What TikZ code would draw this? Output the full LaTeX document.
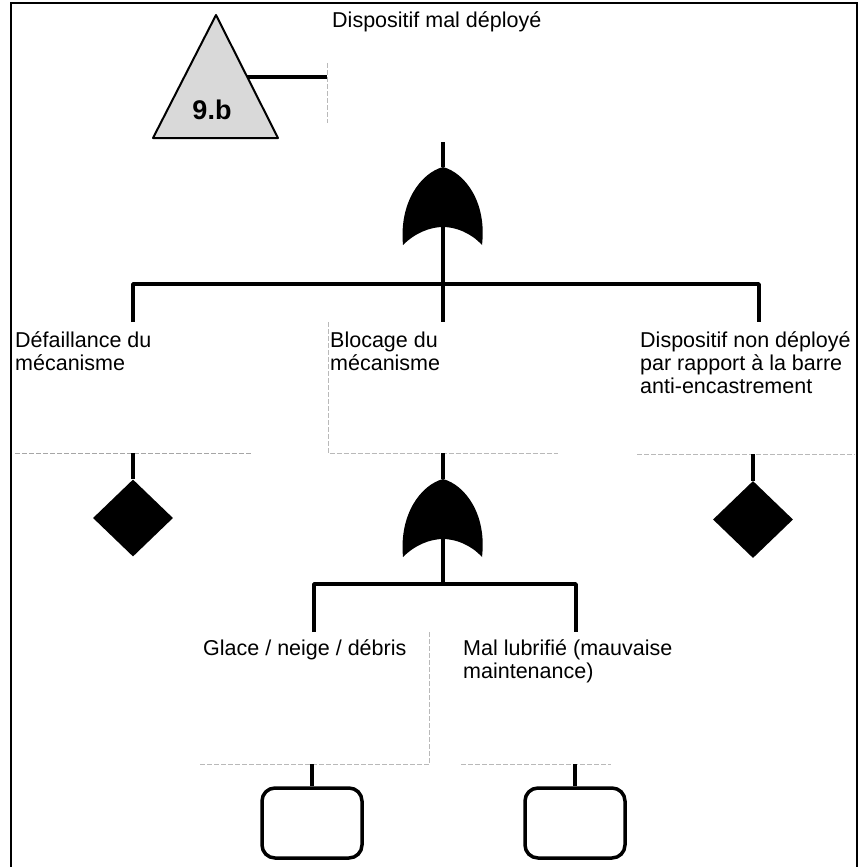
\documentclass[tikz,border=0pt]{standalone}
\usepackage{fontspec}
\setmainfont{Liberation Sans}
\usetikzlibrary{shapes.geometric}
\begin{document}
\begin{tikzpicture}[x=1pt,y=-1pt,
  conn/.style={line width=3.5pt, line join=round},
  lbl/.style={anchor=base west, inner sep=0pt, font=\fontsize{21.5}{23}\selectfont, align=left},
  evbox/.style={rectangle, draw=none, inner sep=0pt, anchor=north west},
  faint/.style={draw=gray!55, line width=0.8pt, dash pattern=on 5pt off 2pt},
  basicev/.style={diamond, fill=black, inner sep=0pt, minimum width=80pt, minimum height=77pt},
  undev/.style={rectangle, draw, line width=3.5pt, rounded corners=13pt, minimum width=100pt, minimum height=70pt, inner sep=0pt},
  orgate/.pic={
    \fill (-40,78) .. controls (-44,35) and (-22,6) .. (0,0)
      .. controls (22,6) and (44,35) .. (39,78)
      .. controls (28,66) and (13,60) .. (0,60)
      .. controls (-13,60) and (-28,66) .. (-40,78) -- cycle;
    \coordinate (-top) at (0,0);
    \coordinate (-bot) at (0,60);
  }
]
\useasboundingbox (0,0) rectangle (860,867);

% frame
\coordinate (fbl) at (11,867);
\coordinate (ftl) at (11,3);
\coordinate (ftr) at (857,3);
\coordinate (fbr) at (857,867);
\draw[line width=2pt] (fbl) -- (ftl) -- (ftr) -- (fbr);

% transfer triangle
\coordinate (ta) at (216,15);
\coordinate (tl) at (153,138);
\coordinate (tr) at (278,138);
\filldraw[fill=gray!30, line width=2pt, line join=round] (ta) -- (tr) -- (tl) -- cycle;
\node[font=\bfseries\fontsize{27}{27}\selectfont, inner sep=0pt] (tri) at (212,110) {9.b};
\coordinate (te) at (247,77);

% event boxes
\node[evbox, minimum width=233pt, minimum height=137pt] (b0) at (327,5) {};
\node[evbox, minimum width=236pt, minimum height=131pt] (b1) at (15,322) {};
\node[evbox, minimum width=230pt, minimum height=131pt] (b2) at (328,322) {};
\node[evbox, minimum width=218pt, minimum height=132pt] (b3) at (637,322) {};
\node[evbox, minimum width=229pt, minimum height=132pt] (b4) at (200,632) {};
\node[evbox, minimum width=150pt, minimum height=132pt] (b5) at (461,632) {};

% faint box edges
\draw[faint] ([yshift=-58pt]b0.north west) -- ([yshift=19pt]b0.south west);
\draw[faint, draw=gray!70] (b1.south west) -- (b1.south east);
\draw[faint] (b2.north west) -- (b2.south west) -- (b2.south east);
\draw[faint] (b3.south west) -- (b3.south east);
\draw[faint] (b4.south west) -- (b4.south east) -- (b4.north east);
\draw[faint] (b5.south west) -- (b5.south east);

% texts (base = last line baseline)
\node[lbl] (t0) at (332,28) {Dispositif mal déployé};
\node[lbl] (t1) at (15,370) {Défaillance du\\mécanisme};
\node[lbl] (t2) at (330,370) {Blocage du\\mécanisme};
\node[lbl] (t3) at (640,393) {Dispositif non déployé\\par rapport à la barre\\anti-encastrement};
\node[lbl] (t4) at (203,655) {Glace / neige / débris};
\node[lbl] (t5) at (463,678) {Mal lubrifié (mauvaise\\maintenance)};

% connector triangle -> top box
\draw[conn] (te) -- (te -| b0.west);

% top OR gate
\pic (g1) at (443,167) {orgate};
\draw[conn] (g1-top |- b0.south) -- (g1-top);
\coordinate (bus1) at (443,284);
\coordinate (b1top) at (133,322);
\coordinate (b3top) at (759,322);
\draw[conn] (g1-bot) -- (g1-bot |- b2.north);
\draw[conn] (b1top) |- (bus1) -| (b3top);

% basic events
\node[basicev] (d1) at (133,518) {};
\node[basicev] (d2) at (753,519.5) {};
\draw[conn] (d1.north |- b1.south) -- (d1.north);
\draw[conn] (d2.north |- b3.south) -- (d2.north);

% second OR gate
\pic (g2) at (443,479) {orgate};
\draw[conn] (g2-top |- b2.south) -- (g2-top);
\coordinate (bus2) at (443,584);
\coordinate (b4top) at (314,632);
\coordinate (b5top) at (576,632);
\draw[conn] (g2-bot) -- (bus2);
\draw[conn] (b4top) |- (bus2) -| (b5top);

% undeveloped events
\node[undev] (h1) at (312,823) {};
\node[undev] (h2) at (575,823) {};
\draw[conn] (h1.north |- b4.south) -- (h1.north);
\draw[conn] (h2.north |- b5.south) -- (h2.north);
\end{tikzpicture}
\end{document}
